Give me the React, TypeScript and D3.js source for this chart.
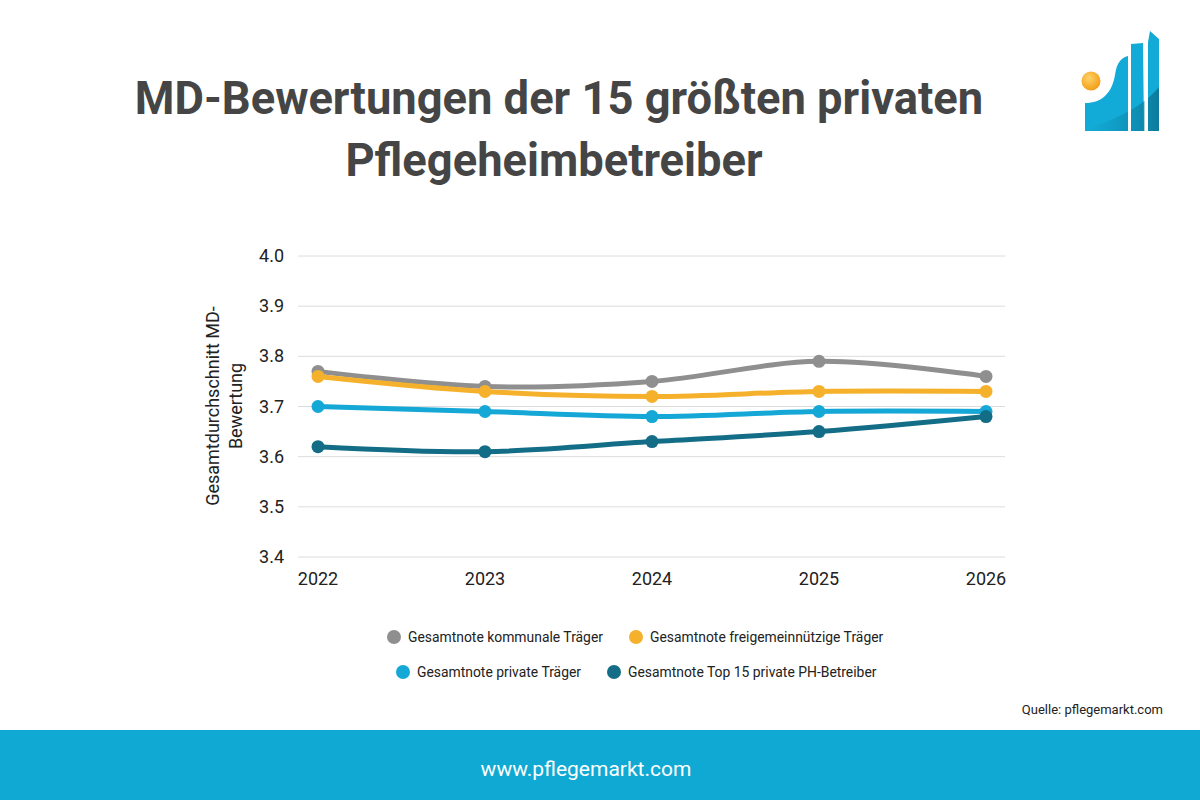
import React from "react";
import * as d3 from "d3";

const years = ["2022", "2023", "2024", "2025", "2026"];
const kommunal = [3.77, 3.74, 3.75, 3.79, 3.76];
const freigemein = [3.76, 3.73, 3.72, 3.73, 3.73];
const privat = [3.7, 3.69, 3.68, 3.69, 3.69];
const top15 = [3.62, 3.61, 3.63, 3.65, 3.68];
const yTicks = [3.4, 3.5, 3.6, 3.7, 3.8, 3.9, 4.0];

const seriesNames = [
  "Gesamtnote kommunale Träger",
  "Gesamtnote freigemeinnützige Träger",
  "Gesamtnote private Träger",
  "Gesamtnote Top 15 private PH-Betreiber",
];
const seriesColors = ["#8f8f8f", "#f5b12c", "#15a8d7", "#146d87"];

const FONT = "Roboto, 'Noto Sans', sans-serif";

export default function App() {
  const series = [kommunal, freigemein, privat, top15];

  const x = d3.scalePoint().domain(years).range([318, 986]);
  const y = d3.scaleLinear().domain([3.4, 4.0]).range([557, 256]);

  const line = d3
    .line<number>()
    .x((_, i) => x(years[i]) ?? 0)
    .y((d) => y(d))
    .curve(d3.curveCatmullRom.alpha(0.5));

  // legend positions (two centered rows)
  const legendItems = [
    { cx: 394, cy: 637 },
    { cx: 636, cy: 637 },
    { cx: 403, cy: 672 },
    { cx: 614, cy: 672 },
  ];

  return (
    <svg
      width={1200}
      height={800}
      style={{ position: "fixed", top: 0, left: 0, background: "#fff" }}
      fontFamily={FONT}
    >
      <rect x={0} y={0} width={1200} height={800} fill="#fff" />

      {/* Title */}
      <text x={559} y={114} textAnchor="middle" fontSize={45.3} fontWeight={700} fill="#454545">
        MD-Bewertungen der 15 größten privaten
      </text>
      <text x={554} y={176} textAnchor="middle" fontSize={45.3} fontWeight={700} fill="#454545">
        Pflegeheimbetreiber
      </text>

      {/* Logo */}
      <defs>
        <linearGradient id="swoosh" x1="0" y1="0" x2="1" y2="0">
          <stop offset="0" stopColor="#0e8fb4" stopOpacity={0} />
          <stop offset="1" stopColor="#0b6f8c" />
        </linearGradient>
        <radialGradient id="sun" cx="0.4" cy="0.35" r="0.7">
          <stop offset="0" stopColor="#ffd36a" />
          <stop offset="1" stopColor="#f29a12" />
        </radialGradient>
      </defs>
      <g>
        <path
          d="M1085,103 C1102,103 1112,93 1115,75 C1117,62 1121,58 1128,56 L1128,131 L1085,131 Z"
          fill="#12aad6"
        />
        <path d="M1131,44 L1143,43 L1144,131 L1131,131 Z" fill="#12aad6" />
        <path d="M1148,42 L1150,31 L1159,39 L1159,131 L1148,131 Z" fill="#12aad6" />
        <path
          d="M1085,131 C1110,120 1140,110 1159,87 L1159,131 Z"
          fill="url(#swoosh)"
          opacity={0.8}
        />
        <rect x={1128} y={40} width={3} height={92} fill="#fff" />
        <rect x={1144.5} y={30} width={3.5} height={102} fill="#fff" />
        <circle cx={1091} cy={81} r={9.5} fill="url(#sun)" />
      </g>

      {/* Grid */}
      {yTicks.map((t) => (
        <g key={t}>
          <line x1={298} x2={1005} y1={y(t)} y2={y(t)} stroke="#dcdcdc" strokeWidth={1} />
          <text x={284} y={y(t) + 6} textAnchor="end" fontSize={18} fill="#222">
            {t.toFixed(1)}
          </text>
        </g>
      ))}

      {/* X labels */}
      {years.map((yr) => (
        <text key={yr} x={x(yr)} y={585} textAnchor="middle" fontSize={18} fill="#222">
          {yr}
        </text>
      ))}

      {/* Y axis title */}
      <g transform="translate(225,406) rotate(-90)">
        <text x={0} y={-6} textAnchor="middle" fontSize={18} fill="#222">
          Gesamtdurchschnitt MD-
        </text>
        <text x={0} y={17} textAnchor="middle" fontSize={18} fill="#222">
          Bewertung
        </text>
      </g>

      {/* Lines */}
      {series.map((s, si) => (
        <g key={si}>
          <path d={line(s) ?? ""} fill="none" stroke={seriesColors[si]} strokeWidth={5} />
          {s.map((v, i) => (
            <circle key={i} cx={x(years[i])} cy={y(v)} r={6.5} fill={seriesColors[si]} />
          ))}
        </g>
      ))}

      {/* Legend */}
      {seriesNames.map((name, i) => (
        <g key={name}>
          <circle cx={legendItems[i].cx} cy={legendItems[i].cy} r={7} fill={seriesColors[i]} />
          <text
            x={legendItems[i].cx + 14}
            y={legendItems[i].cy + 5}
            fontSize={13.9}
            fill="#222"
          >
            {name}
          </text>
        </g>
      ))}

      {/* Source */}
      <text x={1163} y={714} textAnchor="end" fontSize={13} fill="#222">
        Quelle: pflegemarkt.com
      </text>

      {/* Footer */}
      <rect x={0} y={730} width={1200} height={70} fill="#0fa9d3" />
      <text x={586} y={776} textAnchor="middle" fontSize={21} fill="#fff">
        www.pflegemarkt.com
      </text>
    </svg>
  );
}
